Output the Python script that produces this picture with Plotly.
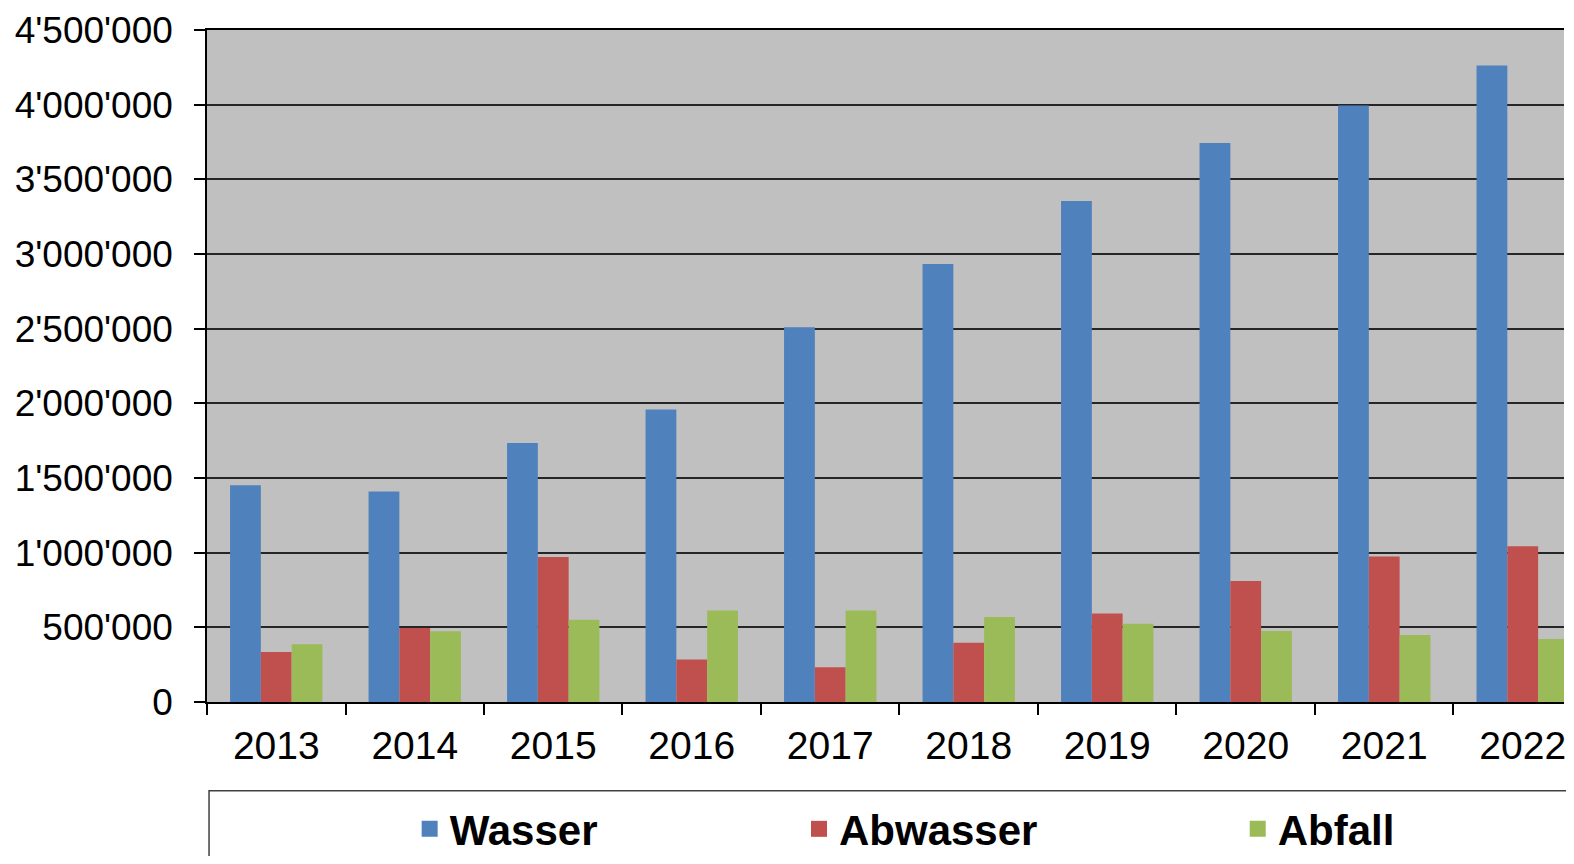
import plotly.graph_objects as go

years = ["2013", "2014", "2015", "2016", "2017", "2018", "2019", "2020", "2021", "2022"]
wasser = [1451000, 1409000, 1734000, 1958000, 2510000, 2933000, 3355000, 3744000, 3995000, 4263000]
abwasser = [335000, 496000, 971000, 284000, 233000, 396000, 593000, 811000, 975000, 1043000]
abfall = [386000, 473000, 551000, 612000, 612000, 569000, 524000, 476000, 449000, 422000]

series = [
    ("Wasser", wasser, "#4F81BD", "legend", 0.2578),
    ("Abwasser", abwasser, "#C0504D", "legend2", 0.5077),
    ("Abfall", abfall, "#9BBB59", "legend3", 0.7893),
]

fig = go.Figure()

for name, vals, color, leg, _ in series:
    fig.add_trace(go.Bar(x=years, y=vals, name=name, marker_color=color,
                         marker_line_width=0, showlegend=False))
    # square marker proxy so the legend symbol is bigger than the bar icon
    fig.add_trace(go.Scatter(x=[None], y=[None], mode="markers", name=name,
                             marker=dict(symbol="square", size=16, color=color),
                             legend=leg, showlegend=True))

legend_font = dict(family="Liberation Sans", size=42, color="black", weight="bold")
for name, vals, color, leg, lx in series:
    fig.update_layout({leg: dict(
        x=lx, y=0.0318, xref="container", yref="container",
        xanchor="left", yanchor="middle", orientation="h",
        bgcolor="rgba(0,0,0,0)", borderwidth=0, font=legend_font,
    )})

# legend frame (runs off the right and bottom edge like the original)
fig.add_shape(type="rect", xref="paper", yref="paper",
              x0=0.0015, x1=1.2, y0=-0.132, y1=-0.4,
              line=dict(color="#404040", width=1.5), fillcolor="rgba(0,0,0,0)")

# page body has an 8px margin, so keep the figure inside the window
fig.update_layout(
    width=1558, height=848,
    margin=dict(l=199, r=0, t=22, b=154),
    paper_bgcolor="white", plot_bgcolor="#C0C0C0",
    barmode="group", bargap=0.333, bargroupgap=0,
    separators=".'",
    font=dict(family="Liberation Sans", size=37, color="black"),
)

fig.update_xaxes(
    range=[-0.5, 9.298], type="category",
    showline=True, linecolor="black", linewidth=1.5, mirror=True,
    ticks="outside", tickson="boundaries", ticklen=11, tickwidth=1.5, tickcolor="black",
    ticklabelstandoff=8, tickfont=dict(size=39), showgrid=False,
)
fig.update_yaxes(
    range=[0, 4500000], dtick=500000, tickformat=",d",
    showline=True, linecolor="black", linewidth=1.5,
    ticks="outside", ticklen=11, tickwidth=1.5, tickcolor="black",
    ticklabelstandoff=14,
    showgrid=True, gridcolor="#262626", gridwidth=1.5, zeroline=False,
)

fig.write_html("out.html")
